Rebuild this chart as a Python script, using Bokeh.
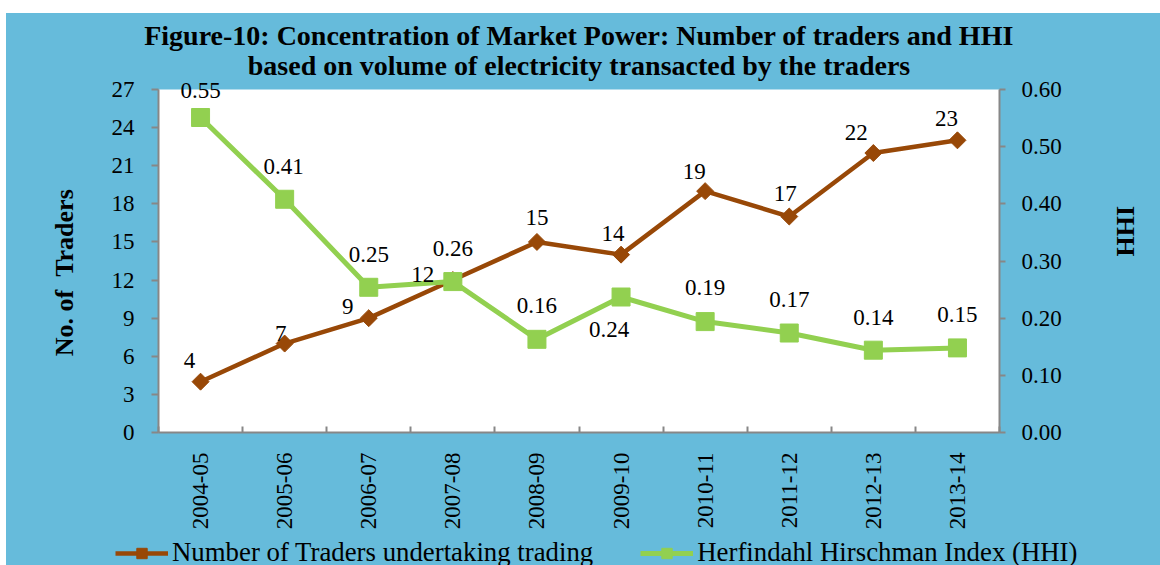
import math
from bokeh.plotting import figure
from bokeh.layouts import column, row
from bokeh.models import (ColumnDataSource, Range1d, LinearAxis, FixedTicker, Title, Spacer,
                          Legend, LegendItem, NumeralTickFormatter, BoxAnnotation)
from bokeh.core.properties import value
from bokeh.embed import file_html
from bokeh.resources import INLINE

# ---- data ----
years = ["2004-05", "2005-06", "2006-07", "2007-08", "2008-09",
         "2009-10", "2010-11", "2011-12", "2012-13", "2013-14"]
traders = [4, 7, 9, 12, 15, 14, 19, 17, 22, 23]
hhi = [0.551, 0.408, 0.254, 0.264, 0.163, 0.237, 0.194, 0.174, 0.144, 0.148]
left_ticks = [0, 3, 6, 9, 12, 15, 18, 21, 24, 27]
right_ticks = [0.0, 0.1, 0.2, 0.3, 0.4, 0.5, 0.6]
title_lines = ["Figure-10: Concentration of Market Power: Number of traders and HHI",
               "based on volume of electricity transacted by the traders"]
series_names = ["Number of Traders undertaking trading", "Herfindahl Hirschman Index (HHI)"]
left_title = "No. of \u00a0Traders"
right_title = "HHI"

# label offsets (screen px) for data labels
trader_dx = [-11, -4, -21, -30, 0, -8, -11, -4, -17, -11]
trader_dy = [-21, -10, -12, -6, -24, -21, -20, -23, -21, -22]
hhi_dx = [0, -1, 0, 0, 0, -12, 0, 0, 0, 0]
hhi_dy = [-27, -33, -33, -33, -34, 32, -34, -34, -33, -33]

BLUE = "#66BBDB"
BROWN = "#984807"
GREEN = "#92D050"
GRAY = "#878787"
FONT = "Liberation Serif"
NB = "\u00a0"

LEFT_MAX, RIGHT_MAX = 27, 0.6
EXT = 352 / 343  # frame extends a little above the plotting area

xs = [i + 0.5 for i in range(len(years))]

src = ColumnDataSource(dict(
    x=xs, traders=traders, hhi=hhi,
    t_lbl=[str(v) for v in traders],
    h_lbl=["%.2f" % v for v in hhi],
    tdx=trader_dx, tdy=trader_dy, hdx=hhi_dx, hdy=hhi_dy,
))

p = figure(width=1154, height=524, title=None,
           x_range=Range1d(0, len(years)), y_range=Range1d(0, LEFT_MAX * EXT),
           output_backend="svg", toolbar_location=None,
           min_border_left=152, min_border_right=161, min_border_top=67, min_border_bottom=105,
           background_fill_color=BLUE, border_fill_color=BLUE, outline_line_color=None)
p.grid.visible = False
p.extra_y_ranges = {"hhi": Range1d(0, RIGHT_MAX * EXT)}

# white plotting area
p.add_layout(BoxAnnotation(bottom=0, top=LEFT_MAX, fill_color="white", fill_alpha=1,
                           line_color=None, level="underlay"))

# x axis
xa = p.xaxis[0]
xa.ticker = FixedTicker(ticks=xs, minor_ticks=list(range(len(years) + 1)))
xa.major_label_overrides = {x: y for x, y in zip(xs, years)}
xa.major_label_orientation = math.pi / 2
xa.major_tick_out = 0
xa.major_tick_in = 0
xa.minor_tick_in = 6
xa.minor_tick_out = 0
xa.minor_tick_line_color = GRAY
xa.axis_line_color = GRAY
xa.axis_line_width = 2
xa.minor_tick_line_width = 2
xa.major_label_standoff = 20
xa.major_label_text_font = FONT
xa.major_label_text_font_size = "23px"
xa.major_label_text_color = "black"

# left axis
ya = p.yaxis[0]
ya.ticker = FixedTicker(ticks=left_ticks)
ya.bounds = (0, LEFT_MAX)
ya.major_tick_out = 7
ya.major_tick_in = 0
ya.minor_tick_out = 0
ya.minor_tick_in = 0
ya.axis_line_color = GRAY
ya.axis_line_width = 2
ya.major_tick_line_color = GRAY
ya.major_tick_line_width = 2
ya.major_label_standoff = 17
ya.major_label_text_font = FONT
ya.major_label_text_font_size = "23px"
ya.major_label_text_color = "black"
ya.axis_label = left_title + NB * 5   # padding nudges the title down like the original
ya.axis_label_text_font = FONT
ya.axis_label_text_font_size = "26px"
ya.axis_label_text_font_style = "bold"
ya.axis_label_text_color = "black"
ya.axis_label_standoff = 30

# right axis
ra = LinearAxis(y_range_name="hhi", ticker=FixedTicker(ticks=right_ticks),
                formatter=NumeralTickFormatter(format="0.00"), bounds=(0, RIGHT_MAX))
ra.major_tick_out = 6
ra.major_tick_in = 0
ra.minor_tick_out = 0
ra.minor_tick_in = 0
ra.axis_line_color = GRAY
ra.axis_line_width = 2
ra.major_tick_line_color = GRAY
ra.major_tick_line_width = 2
ra.major_label_standoff = 16
ra.major_label_text_font = FONT
ra.major_label_text_font_size = "23px"
ra.major_label_text_color = "black"
ra.axis_label = right_title
ra.axis_label_text_font = FONT
ra.axis_label_text_font_size = "26px"
ra.axis_label_text_font_style = "bold"
ra.axis_label_text_color = "black"
ra.axis_label_text_align = "center"
ra.axis_label_standoff = 61
if hasattr(ra, "axis_label_orientation"):
    ra.axis_label_orientation = math.pi / 2
p.add_layout(ra, "right")

# series
p.line("x", "traders", source=src, line_color=BROWN, line_width=4.5)
p.scatter("x", "traders", source=src, marker="square", angle=math.pi / 4, size=12,
          fill_color=BROWN, line_color=BROWN)
p.line("x", "hhi", source=src, y_range_name="hhi", line_color=GREEN, line_width=5)
p.scatter("x", "hhi", source=src, y_range_name="hhi", marker="square", size=18,
          fill_color=GREEN, line_color=GREEN)

# data labels
p.text("x", "traders", text="t_lbl", source=src, x_offset="tdx", y_offset="tdy",
       text_align="center", text_baseline="middle", text_font=value(FONT),
       text_font_size="23px", text_color="black")
p.text("x", "hhi", text="h_lbl", source=src, y_range_name="hhi", x_offset="hdx", y_offset="hdy",
       text_align="center", text_baseline="middle", text_font=value(FONT),
       text_font_size="23px", text_color="black")

# title lines (first added sits closest to the plot)
p.add_layout(Title(text=title_lines[1], align="center", text_font=FONT, text_font_size="28px",
                   text_font_style="bold", text_color="black", standoff=0, offset=0), "above")
p.add_layout(Title(text=title_lines[0], align="center", text_font=FONT, text_font_size="28px",
                   text_font_style="bold", text_color="black", standoff=-6, offset=0), "above")

# legend strip (separate figure so the legend does not squeeze the plot)
lg = figure(width=1154, height=28, x_range=Range1d(0, len(years)), y_range=Range1d(-10, -9),
            x_axis_location=None, y_axis_location=None, min_border=0,
            output_backend="svg", toolbar_location=None,
            background_fill_color=BLUE, border_fill_color=BLUE, outline_line_color=None)
lg.grid.visible = False
for fig in (p, lg):
    if hasattr(fig, "frame_align"):
        fig.frame_align = False
g1 = lg.line("x", "traders", source=src, line_color=BROWN, line_width=4.5)
g2 = lg.scatter("x", "traders", source=src, marker="square", angle=math.pi / 4, size=12,
                fill_color=BROWN, line_color=BROWN)
g3 = lg.line("x", "hhi", source=src, line_color=GREEN, line_width=5)
g4 = lg.scatter("x", "hhi", source=src, marker="square", size=16,
                fill_color=GREEN, line_color=GREEN)
legend = Legend(items=[LegendItem(label=series_names[0], renderers=[g1, g2]),
                       LegendItem(label=series_names[1], renderers=[g3, g4])],
                orientation="horizontal", location=(109, -3),
                background_fill_alpha=0, border_line_alpha=0,
                label_text_font=FONT, label_text_font_size="26.8px", label_text_color="black",
                glyph_width=53, glyph_height=26, label_standoff=4, spacing=47,
                padding=0, margin=0)
lg.add_layout(legend, "center")

inner = column(p, lg, spacing=0, styles={"background-color": BLUE})
layout = column(Spacer(height=13, width=1160),
                row(Spacer(width=6, height=552), inner, spacing=0),
                spacing=0)

open("out.html", "w").write(file_html(layout, INLINE))
